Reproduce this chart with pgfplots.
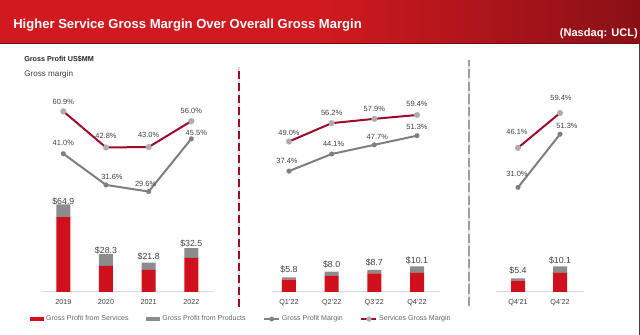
\documentclass[border=0pt]{standalone}
\usepackage{pgfplots}
\usepackage{pgfplotstable}
\pgfplotsset{compat=1.18}
\usepackage{fontspec}
\setmainfont{Liberation Sans}

\definecolor{hdrL}{HTML}{D01A20}
\definecolor{hdrR}{HTML}{8A1016}
\definecolor{svcbar}{HTML}{D0101C}
\definecolor{prodbar}{HTML}{8C8C8C}
\definecolor{svcline}{HTML}{9E0A28}
\definecolor{mkgray}{HTML}{ADADAD}
\definecolor{gmline}{HTML}{7F7F7F}
\definecolor{txt}{HTML}{404040}

% gross profit, US$MM: services, products, total
\pgfplotstableread{
x svc prod total
0 55.5 9.4 64.9
1 19.3 9.0 28.3
2 16.3 5.5 21.8
3 25.2 7.3 32.5
}\gpYear
\pgfplotstableread{
x svc prod total
0 4.9 0.9 5.8
1 6.3 1.7 8.0
2 7.3 1.4 8.7
3 7.5 2.6 10.1
}\gpQtr
\pgfplotstableread{
x svc prod total
0 4.5 0.9 5.4
1 7.5 2.6 10.1
}\gpYoY

% margins, % (dx, dy: label offset in px)
\pgfplotstableread{
x y dx dy
0 60.9 0 9
1 42.8 0 12
2 43.0 0 12
3 56.0 0 10
}\smYear
\pgfplotstableread{
x y dx dy
0 41.0 0 11
1 31.6 6 8
2 29.6 -3 8
3 45.5 5 6
}\gmYear
\pgfplotstableread{
x y dx dy
0 49.0 0 9
1 56.2 0 10
2 57.9 0 10
3 59.4 0 11
}\smQtr
\pgfplotstableread{
x y dx dy
0 37.4 -2 10
1 44.1 2 10
2 47.7 3 8
3 51.3 0 9
}\gmQtr
\pgfplotstableread{
x y dx dy
0 46.1 -1 16
1 59.4 1 15
}\smYoY
\pgfplotstableread{
x y dx dy
0 31.0 -1 13
1 51.3 7 8
}\gmYoY

\pgfplotsset{
  /pgf/number format/assume math mode=true,
  barpanel/.style={
    scale only axis, height=180pt, ymin=0,
    ybar stacked, bar width=10.5pt,
    axis y line=none, axis x line*=bottom,
    x axis line style={draw=black!15, line width=0.75pt, -},
    major tick length=0pt, xtick distance=1,
    xticklabel style={font=\fontsize{5.4}{6}\selectfont, text=txt, yshift=-2.2pt},
    clip=false,
  },
  linepanel/.style={scale only axis, height=180pt, hide axis, clip=false},
  svcfill/.style={fill=svcbar, draw=none},
  prodfill/.style={fill=prodbar, draw=none,
    nodes near coords={\$\pgfmathprintnumber[fixed,fixed zerofill,precision=1]{\pgfplotspointmeta}},
    point meta=explicit,
    every node near coord/.append style={font=\fontsize{6.6}{7}\selectfont, text=txt, anchor=center, yshift=7pt}},
  pctlabels/.style={
    point meta=y,
    visualization depends on={\thisrow{dx}\as\dx},
    visualization depends on={\thisrow{dy}\as\dy},
    nodes near coords={\pgfmathprintnumber[fixed,fixed zerofill,precision=1]{\pgfplotspointmeta}\%},
    every node near coord/.append style={font=\fontsize{5.6}{6}\selectfont, text=txt, anchor=center,
      xshift={\dx*0.75pt}, yshift={\dy*0.75pt}},
  },
  svcmargin/.style={draw=svcline, line width=1.5pt, mark=*, mark size=2.2pt,
    mark options={fill=mkgray, draw=mkgray, line width=0.1pt}, pctlabels},
  gmmargin/.style={draw=gmline, line width=1.5pt, mark=*, mark size=1.8pt,
    mark options={fill=gmline, draw=gmline, line width=0.1pt}, pctlabels},
}

\begin{document}
\begin{tikzpicture}
\path[use as bounding box, fill=white] (0,0) rectangle (480pt,251.25pt);

% header band
\shade[left color=hdrL, right color=hdrR, middle color=hdrL] (0,218.25pt) rectangle (480pt,251.25pt);
\fill[hdrR!80!black] (0,218.25pt) rectangle (480pt,218.9pt);
\node[anchor=base west, text=white, font=\fontsize{9.8}{11}\selectfont\bfseries, inner sep=0pt]
  at (9.75pt,229.5pt) {Higher Service Gross Margin Over Overall Gross Margin};
\node[anchor=base east, text=white, font=\fontsize{8.3}{10}\selectfont\bfseries, inner sep=0pt]
  at (478.5pt,224pt) {(Nasdaq: UCL)};
\draw[black!75, line width=0.75pt] (479.4pt,0) -- (479.4pt,218.25pt);

\node[anchor=west, inner sep=0pt, font=\fontsize{5.4}{6}\selectfont\bfseries, text=black!85]
  at (18pt,207pt) {Gross Profit US\$MM};
\node[anchor=west, inner sep=0pt, font=\fontsize{6.1}{7}\selectfont, text=txt]
  at (18pt,195.75pt) {Gross margin};

% panel separators
\draw[black!12, line width=1.5pt] (179.25pt,21pt) -- (179.25pt,201pt);
\draw[svcline, line width=1.5pt, dash pattern=on 6pt off 3pt] (179.25pt,21pt) -- (179.25pt,201pt);
\draw[black!12, line width=1.5pt] (351.75pt,21.5pt) -- (351.75pt,206pt);
\draw[black!38, line width=1.5pt, dash pattern=on 7pt off 2.5pt] (351.75pt,21.5pt) -- (351.75pt,206pt);

% ---- annual ----
\begin{axis}[barpanel, at={(31.5pt,32.25pt)}, anchor=south west, width=128pt,
  xmin=-0.5, xmax=3.5, ymax=177.8, xticklabels={2019,2020,2021,2022}, xtick={0,1,2,3},
  legend columns=4,
  legend style={at={(-0.0703,-0.1125)}, anchor=west, draw=none, fill=none, inner sep=0pt,
    font=\fontsize{5.3}{6}\selectfont, text=black!60,
    nodes={inner sep=1.4pt},
    /tikz/every even column/.append style={column sep=12pt}}]
  \addplot[svcfill, legend image code/.code={\fill[svcbar] (0pt,-1.6pt) rectangle (10.5pt,1.6pt);}]
    table[x=x, y=svc] {\gpYear};
  \addlegendentry{Gross Profit from Services}
  \addplot[prodfill, legend image code/.code={\fill[prodbar] (0pt,-1.6pt) rectangle (10.5pt,1.6pt);}]
    table[x=x, y=prod, meta=total] {\gpYear};
  \addlegendentry{Gross Profit from Products}
  \addlegendimage{legend image code/.code={
    \draw[gmline, line width=1.2pt] (0pt,0pt) -- (11.25pt,0pt);
    \fill[gmline] (5.6pt,0pt) circle (1.6pt);}}
  \addlegendentry{Gross Profit Margin}
  \addlegendimage{legend image code/.code={
    \draw[svcline, line width=1.2pt] (0pt,0pt) -- (11.25pt,0pt);
    \fill[mkgray] (5.6pt,0pt) circle (1.8pt);}}
  \addlegendentry{Services Gross Margin}
\end{axis}
\begin{axis}[linepanel, at={(31.5pt,32.25pt)}, anchor=south west, width=128pt,
  xmin=-0.5, xmax=3.5, ymin=-0.65, ymax=71.64]
  \addplot[gmmargin] table[x=x, y=y] {\gmYear};
\end{axis}
\begin{axis}[linepanel, at={(31.5pt,32.25pt)}, anchor=south west, width=128pt,
  xmin=-0.5, xmax=3.5, ymin=-29.69, ymax=90.67]
  \addplot[svcmargin] table[x=x, y=y] {\smYear};
\end{axis}

% ---- quarterly 2022 ----
\begin{axis}[barpanel, at={(204pt,32.25pt)}, anchor=south west, width=126pt,
  xmin=-0.398, xmax=3.539, ymax=94.5, xtick={0,1,2,3},
  xticklabels={Q1'22,Q2'22,Q3'22,Q4'22}]
  \addplot[svcfill] table[x=x, y=svc] {\gpQtr};
  \addplot[prodfill] table[x=x, y=prod, meta=total] {\gpQtr};
\end{axis}
\begin{axis}[linepanel, at={(204pt,32.25pt)}, anchor=south west, width=126pt,
  xmin=-0.398, xmax=3.539, ymin=-10.01, ymax=84.11]
  \addplot[gmmargin] table[x=x, y=y] {\gmQtr};
  \addplot[svcmargin] table[x=x, y=y] {\smQtr};
\end{axis}

% ---- Q4 year over year ----
\begin{axis}[barpanel, at={(372pt,32.25pt)}, anchor=south west, width=66pt,
  xmin=-0.524, xmax=1.571, ymax=94.5, xtick={0,1},
  xticklabels={Q4'21,Q4'22}]
  \addplot[svcfill] table[x=x, y=svc] {\gpYoY};
  \addplot[prodfill] table[x=x, y=prod, meta=total] {\gpYoY};
\end{axis}
\begin{axis}[linepanel, at={(372pt,32.25pt)}, anchor=south west, width=66pt,
  xmin=-0.524, xmax=1.571, ymin=-8.92, ymax=82.68]
  \addplot[gmmargin] table[x=x, y=y] {\gmYoY};
  \addplot[svcmargin] table[x=x, y=y] {\smYoY};
\end{axis}
\end{tikzpicture}
\end{document}
